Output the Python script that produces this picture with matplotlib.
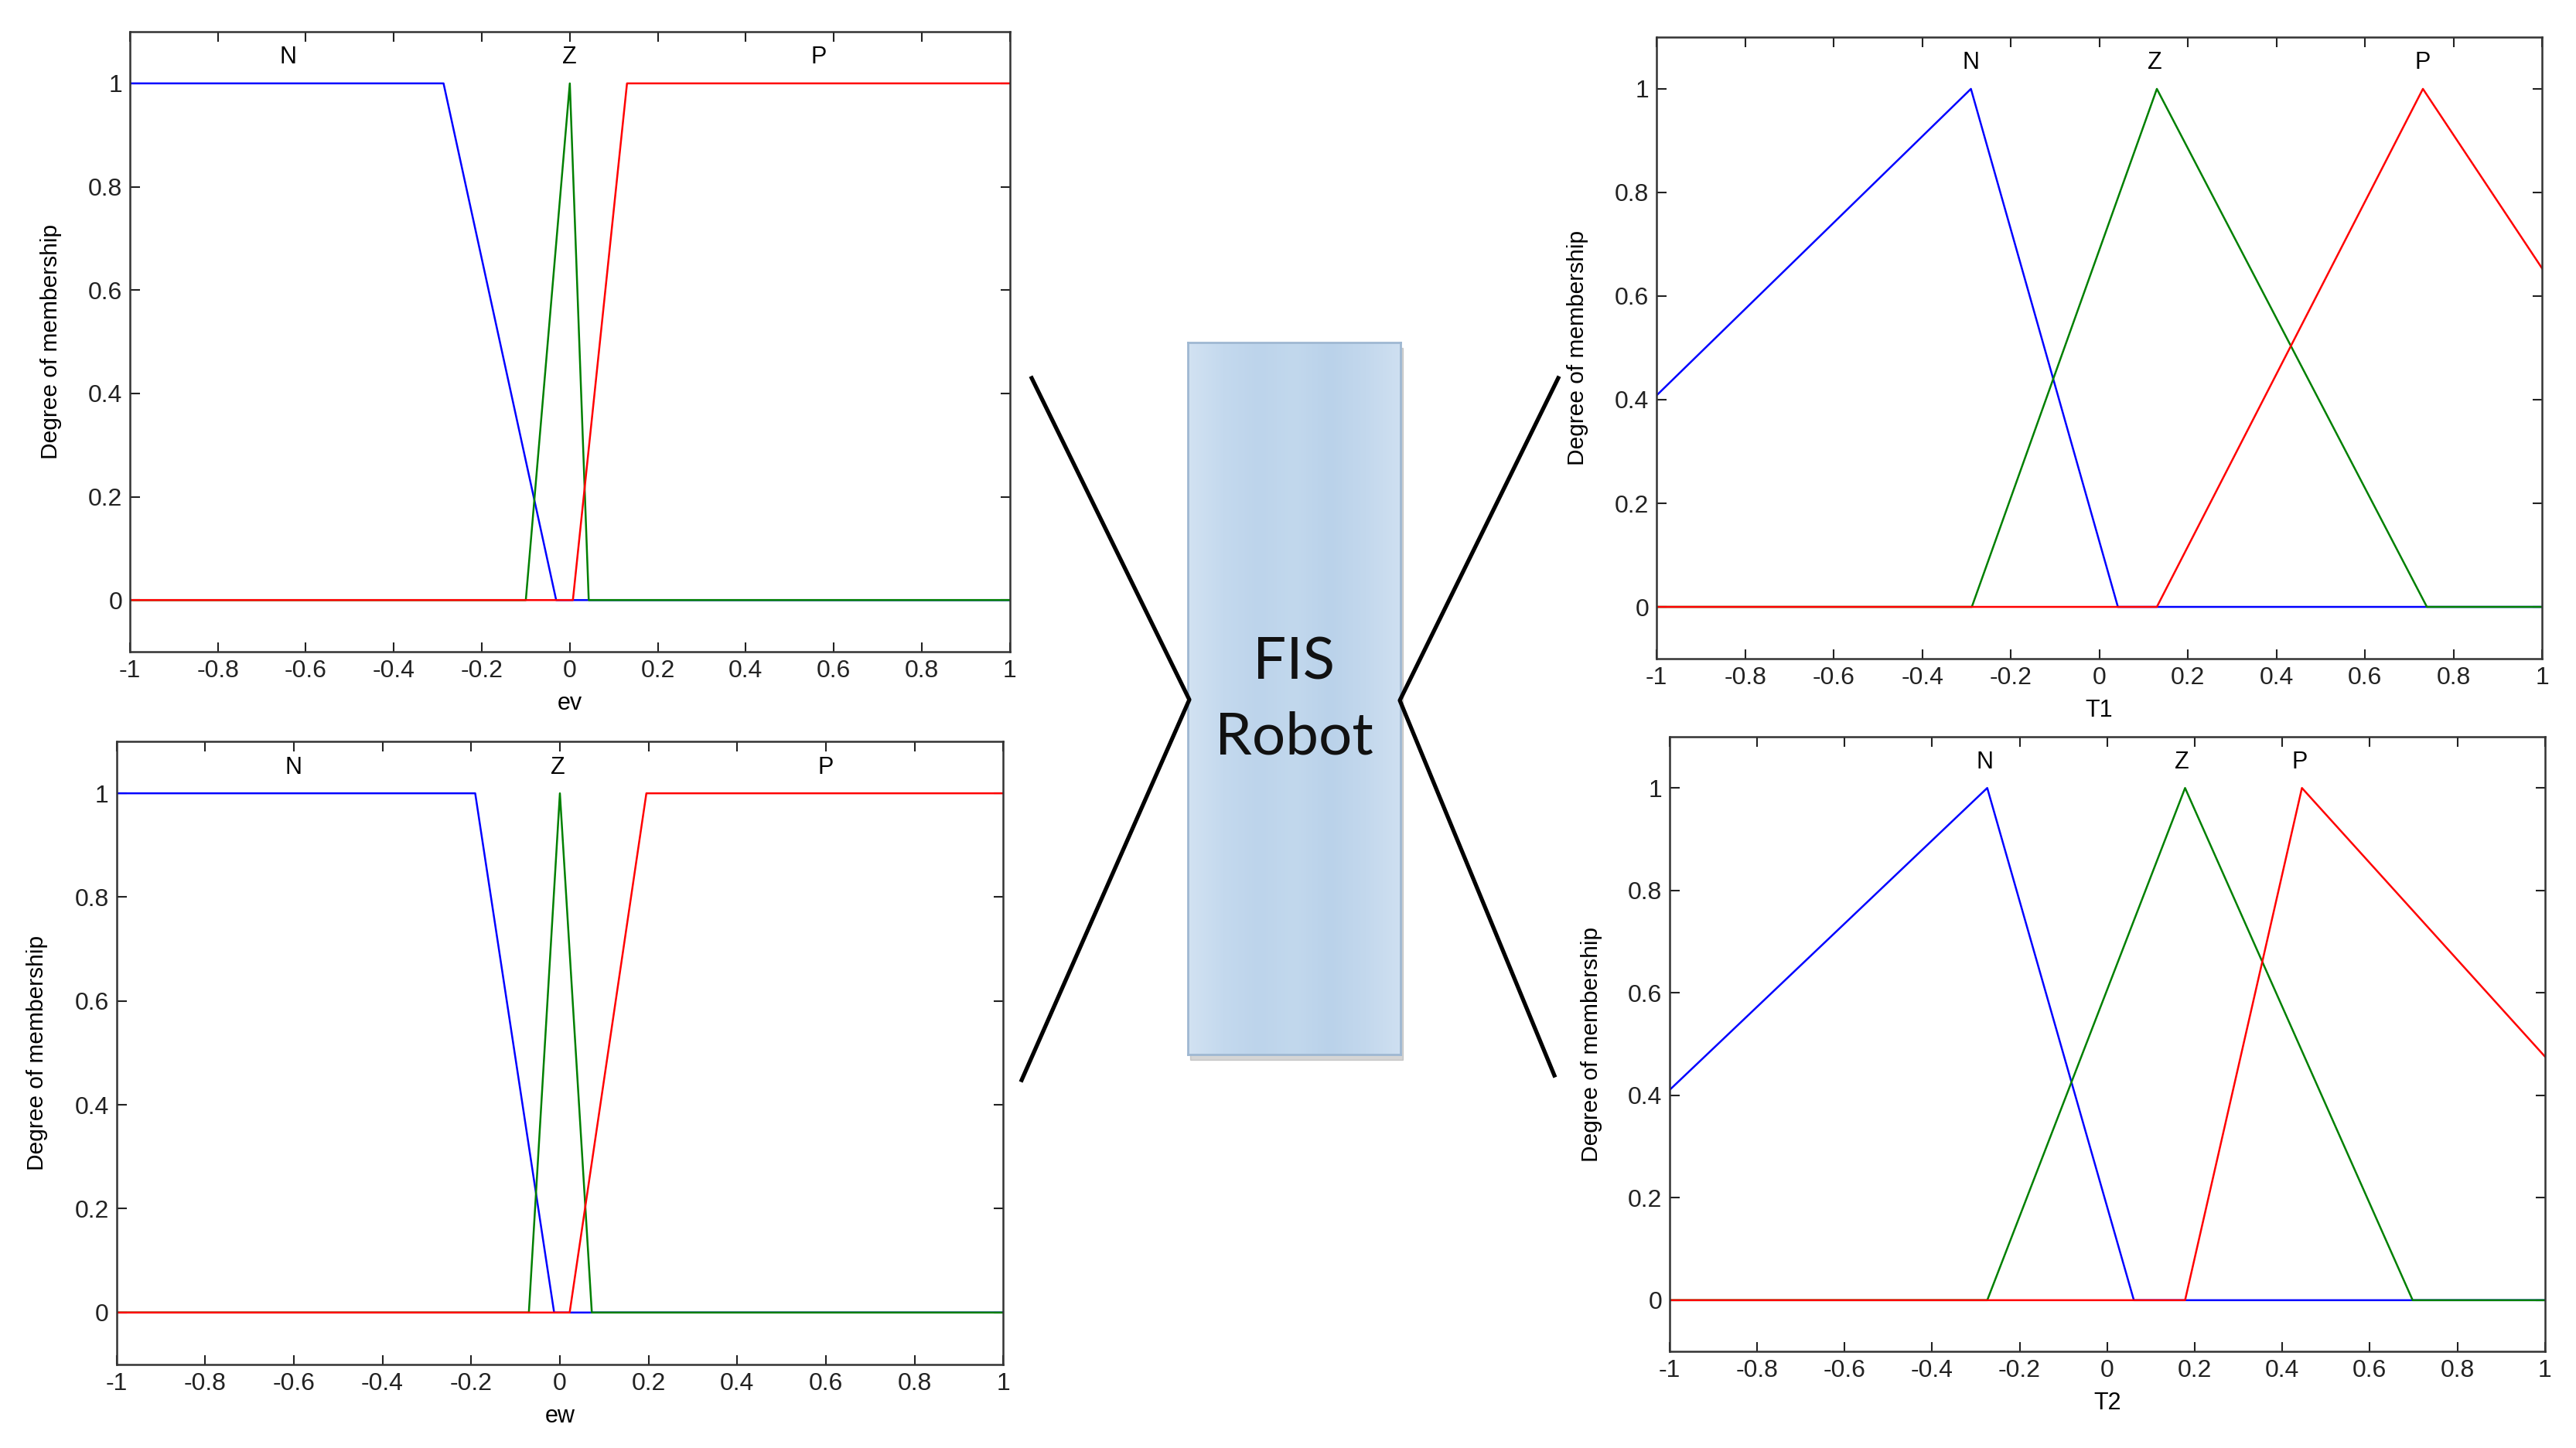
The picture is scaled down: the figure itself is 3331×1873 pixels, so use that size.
import numpy as np
import matplotlib.pyplot as plt
from matplotlib.lines import Line2D
from matplotlib.patches import Rectangle
from matplotlib.colors import LinearSegmentedColormap

plt.rcParams['font.family'] = ['Liberation Sans', 'DejaVu Sans']

# breakpoints of every membership function
# ev (top left)
ev_n_x = [-1, -0.287, -0.031, 1]
ev_n_y = [1, 1, 0, 0]
ev_z_x = [-1, -0.100, 0.0, 0.043, 1]
ev_z_y = [0, 0, 1, 0, 0]
ev_p_x = [-1, 0.007, 0.130, 1]
ev_p_y = [0, 0, 1, 1]
ev_lbl_x = [-0.64, 0.0, 0.565]

# ew (bottom left)
ew_n_x = [-1, -0.191, -0.013, 1]
ew_n_y = [1, 1, 0, 0]
ew_z_x = [-1, -0.070, 0.0, 0.072, 1]
ew_z_y = [0, 0, 1, 0, 0]
ew_p_x = [-1, 0.022, 0.195, 1]
ew_p_y = [0, 0, 1, 1]
ew_lbl_x = [-0.60, -0.005, 0.60]

# T1 (top right)
t1_n_x = [-1.49, -0.290, 0.042, 1]
t1_n_y = [0, 1, 0, 0]
t1_z_x = [-1, -0.288, 0.130, 0.740, 1]
t1_z_y = [0, 0, 1, 0, 0]
t1_p_x = [-1, 0.130, 0.731, 1.508]
t1_p_y = [0, 0, 1, 0]
t1_lbl_x = [-0.29, 0.125, 0.73]

# T2 (bottom right)
t2_n_x = [-1.505, -0.274, 0.061, 1]
t2_n_y = [0, 1, 0, 0]
t2_z_x = [-1, -0.274, 0.178, 0.698, 1]
t2_z_y = [0, 0, 1, 0, 0]
t2_p_x = [-1, 0.178, 0.445, 1.504]
t2_p_y = [0, 0, 1, 0]
t2_lbl_x = [-0.28, 0.17, 0.44]

mf_names = ['N', 'Z', 'P']
mf_colors = ['#0000ff', '#008000', '#ff0000']

panels = [
    ('ev', [(ev_n_x, ev_n_y), (ev_z_x, ev_z_y), (ev_p_x, ev_p_y)], ev_lbl_x,
     [0.0504, 0.5499, 0.3416, 0.4282]),
    ('ew', [(ew_n_x, ew_n_y), (ew_z_x, ew_z_y), (ew_p_x, ew_p_y)], ew_lbl_x,
     [0.0452, 0.0577, 0.3443, 0.4303]),
    ('T1', [(t1_n_x, t1_n_y), (t1_z_x, t1_z_y), (t1_p_x, t1_p_y)], t1_lbl_x,
     [0.6431, 0.5451, 0.3437, 0.4293]),
    ('T2', [(t2_n_x, t2_n_y), (t2_z_x, t2_z_y), (t2_p_x, t2_p_y)], t2_lbl_x,
     [0.6481, 0.0667, 0.3398, 0.4245]),
]

fig = plt.figure(figsize=(33.31, 18.73), dpi=100)

for name, curves, lbl_x, pos in panels:
    ax = fig.add_axes(pos)
    for (xs, ys), col in zip(curves, mf_colors):
        ax.plot(xs, ys, color=col, lw=1.8)
    for lx, lab in zip(lbl_x, mf_names):
        ax.text(lx, 1.05, lab, ha='center', va='center', fontsize=22)
    ax.set_xlim(-1, 1)
    ax.set_ylim(-0.1, 1.1)
    ax.set_xticks(np.arange(-1, 1.01, 0.2))
    ax.set_xticklabels(['-1', '-0.8', '-0.6', '-0.4', '-0.2', '0', '0.2', '0.4', '0.6', '0.8', '1'])
    ax.set_yticks(np.arange(0, 1.01, 0.2))
    ax.set_yticklabels(['0', '0.2', '0.4', '0.6', '0.8', '1'])
    ax.tick_params(direction='in', length=9, width=1.5, top=True, right=True,
                   labelsize=23, pad=7, colors='#222222')
    for sp in ax.spines.values():
        sp.set_linewidth(1.8)
        sp.set_color('#333333')
    ax.set_xlabel(name, fontsize=22)
    ax.xaxis.set_label_coords(0.5, -0.065)
    ax.set_ylabel('Degree of membership', fontsize=21.5)
    ax.yaxis.set_label_coords(-0.077, 0.5)

# central FIS block
box = [0.4611, 0.2718, 0.0826, 0.4917]
box_colors = ['#d2e2f2', '#c4d9ee', '#bdd4eb', '#c2d8ed', '#bad2ea', '#c3d8ed', '#cfe0f1']
shadow = Rectangle((box[0] + 0.0008, box[1] - 0.004), box[2], box[3],
                   transform=fig.transFigure, color='#888888', alpha=0.35, zorder=1)
fig.add_artist(shadow)
bax = fig.add_axes(box, zorder=2)
cmap = LinearSegmentedColormap.from_list('fis', box_colors)
bax.imshow(np.linspace(0, 1, 256)[None, :], cmap=cmap, aspect='auto', extent=[0, 1, 0, 1])
bax.set_xticks([])
bax.set_yticks([])
for sp in bax.spines.values():
    sp.set_color('#9fb8d2')
    sp.set_linewidth(2)
bax.text(0.5, 0.55, 'FIS', ha='center', va='center', fontsize=55, family='Lato',
         color='#111111', transform=bax.transAxes)
bax.text(0.5, 0.445, 'Robot', ha='center', va='center', fontsize=55, family='Lato',
         color='#111111', transform=bax.transAxes)

# connector lines from the block to the four charts
conn_left_x = [0.4005, 0.4617, 0.3966]
conn_left_y = [0.7389, 0.5168, 0.2541]
conn_right_x = [0.6049, 0.5434, 0.6034]
conn_right_y = [0.7389, 0.5163, 0.2573]
fig.add_artist(Line2D(conn_left_x, conn_left_y, transform=fig.transFigure,
                      color='black', lw=3.8, zorder=3))
fig.add_artist(Line2D(conn_right_x, conn_right_y, transform=fig.transFigure,
                      color='black', lw=3.8, zorder=3))

fig.savefig('out.png', dpi=100, facecolor='white')
